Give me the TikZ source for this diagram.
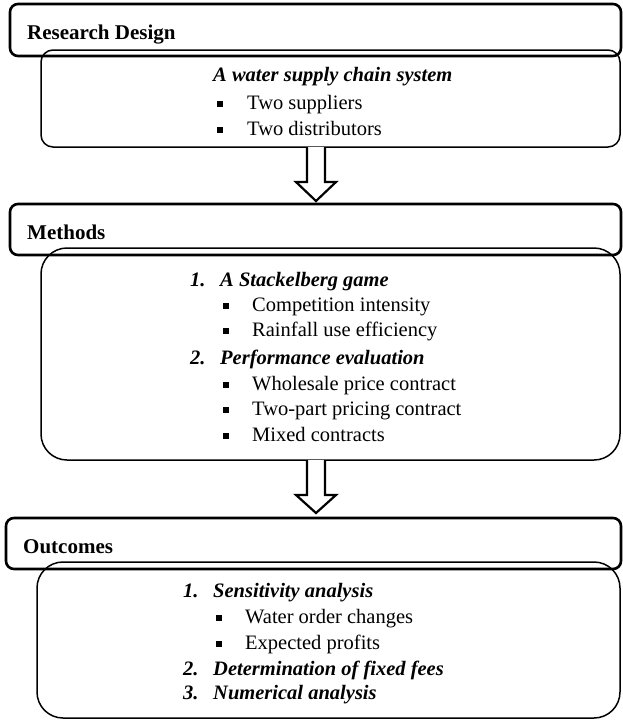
\documentclass[tikz,border=0pt]{standalone}
\usepackage{fontspec}
\setmainfont{Liberation Serif}
\usetikzlibrary{calc}
\begin{document}
\begin{tikzpicture}[x=1pt,y=-1pt,
  hdrbox/.style={draw, line width=2.6pt, rounded corners=8pt, inner sep=0pt, outer sep=0pt, anchor=north west},
  inbox/.style={draw, line width=1.5pt, inner sep=0pt, outer sep=0pt, anchor=north west},
  hdrtext/.style={anchor=base west, inner sep=0pt, font=\fontsize{21}{24}\selectfont\bfseries},
  itm/.style={anchor=base west, inner sep=0pt, font=\fontsize{20.5}{24}\selectfont},
  bitm/.style={anchor=base west, inner sep=0pt, font=\fontsize{20.5}{24}\selectfont\bfseries\itshape},
  bul/.style={fill=black, inner sep=0pt, minimum size=5.5pt},
  blockarrow/.style={draw, line width=2.2pt, fill=white, line join=miter}
]
\useasboundingbox (0,0) rectangle (622,720);

% ---------- Research Design ----------
\node[hdrbox, minimum width=611pt, minimum height=52pt] (h1) at (10,4) {};
\node[hdrtext] (h1t) at (27,39) {Research Design};
\node[inbox, rounded corners=12pt, minimum width=579pt, minimum height=97pt] (b1) at (41,50) {};
\node[bitm] (b1t) at (213,81) {A water supply chain system};
\node[bul] (b1b1) at (220,104) {};
\node[itm] (b1i1) at (247,109) {Two suppliers};
\node[bul] (b1b2) at (220,130) {};
\node[itm] (b1i2) at (247,135) {Two distributors};

% ---------- Methods ----------
\node[hdrbox, minimum width=611pt, minimum height=51pt] (h2) at (10,204) {};
\node[hdrtext] (h2t) at (27,239) {Methods};
\node[inbox, rounded corners=26pt, minimum width=579pt, minimum height=212pt] (b2) at (41,248) {};
\node[bitm] (b2n1) at (190,286) {1.};
\node[bitm] (b2t1) at (220,286) {A Stackelberg game};
\node[bul] (b2b1) at (226,306) {};
\node[itm] (b2i1) at (252,311) {Competition intensity};
\node[bul] (b2b2) at (226,331) {};
\node[itm] (b2i2) at (252,336) {Rainfall use efficiency};
\node[bitm] (b2n2) at (190,364) {2.};
\node[bitm] (b2t2) at (220,364) {Performance evaluation};
\node[bul] (b2b3) at (226,385) {};
\node[itm] (b2i3) at (252,390) {Wholesale price contract};
\node[bul] (b2b4) at (226,410) {};
\node[itm] (b2i4) at (252,415) {Two-part pricing contract};
\node[bul] (b2b5) at (226,436) {};
\node[itm] (b2i5) at (252,441) {Mixed contracts};

% ---------- Outcomes ----------
\node[hdrbox, minimum width=615pt, minimum height=51pt] (h3) at (6,518) {};
\node[hdrtext] (h3t) at (23,553) {Outcomes};
\node[inbox, rounded corners=26pt, minimum width=583pt, minimum height=156pt] (b3) at (37,562) {};
\node[bitm] (b3n1) at (183,597) {1.};
\node[bitm] (b3t1) at (213,597) {Sensitivity analysis};
\node[bul] (b3b1) at (219,618) {};
\node[itm] (b3i1) at (245,623) {Water order changes};
\node[bul] (b3b2) at (219,644) {};
\node[itm] (b3i2) at (245,649) {Expected profits};
\node[bitm] (b3n2) at (183,675) {2.};
\node[bitm] (b3t2) at (213,675) {Determination of fixed fees};
\node[bitm] (b3n3) at (183,699) {3.};
\node[bitm] (b3t3) at (213,699) {Numerical analysis};

% ---------- block arrows ----------
\coordinate (a1s) at (316,147);
\coordinate (a1e) at (316,201);
\draw[blockarrow] ($(a1s)+(-9,0)$) -- ($(a1s)+(-9,35)$) -- ($(a1s)+(-20,35)$) -- (a1e)
  -- ($(a1s)+(20,35)$) -- ($(a1s)+(9,35)$) -- ($(a1s)+(9,0)$);
\coordinate (a2s) at (316,460);
\coordinate (a2e) at (316,513);
\draw[blockarrow] ($(a2s)+(-9,0)$) -- ($(a2s)+(-9,35)$) -- ($(a2s)+(-20,35)$) -- (a2e)
  -- ($(a2s)+(20,35)$) -- ($(a2s)+(9,35)$) -- ($(a2s)+(9,0)$);
\end{tikzpicture}
\end{document}
